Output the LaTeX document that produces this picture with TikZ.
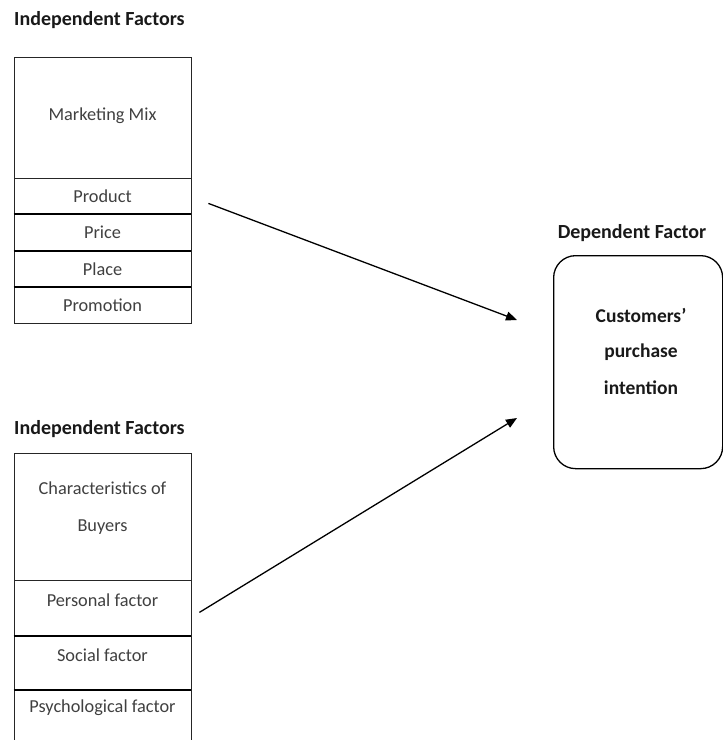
\documentclass[tikz,border=0pt]{standalone}
\usepackage{fontspec}
\setmainfont{Carlito}
\usetikzlibrary{arrows.meta}
\definecolor{txtgray}{HTML}{404040}
\tikzset{
  cell/.style={draw=black!85, line width=0.8pt, minimum width=177pt, inner sep=0pt, anchor=north},
  sep/.style={draw=black, line width=1.4pt},
  txt/.style={text=txtgray, font=\fontsize{18.3}{18.3}\selectfont, inner sep=0pt},
  deptxt/.style={text=black!90, font=\fontsize{19.5}{19.5}\selectfont\bfseries, inner sep=0pt},
  ttl/.style={text=black!90, font=\fontsize{20}{20}\selectfont\bfseries, inner sep=0pt, anchor=west},
  conn/.style={draw=black, line width=1.3pt, -{Triangle[length=11pt,width=9pt]}},
  depbox/.style={draw=black, line width=1.3pt, rounded corners=22pt, minimum width=169pt, minimum height=213pt, inner sep=0pt, anchor=north west}
}
\begin{document}
\begin{tikzpicture}[x=1pt,y=-1pt]
\useasboundingbox (0,0) rectangle (723,740);
% top group
\node[ttl] (title1) at (14,20) {Independent Factors};
\node[cell, minimum height=121pt] (mm) at (102.5,57) {};
\node[txt] (mmt) at (102.5,116) {Marketing Mix};
\node[cell, minimum height=36pt] (product) at (102.5,178) {};
\node[txt] (productt) at (102.5,196) {Product};
\node[cell, minimum height=37pt] (price) at (102.5,214) {};
\node[txt] (pricet) at (102.5,232) {Price};
\node[cell, minimum height=36pt] (place) at (102.5,251) {};
\node[txt] (placet) at (102.5,269) {Place};
\node[cell, minimum height=36pt] (promo) at (102.5,287) {};
\node[txt] (promot) at (102.5,305) {Promotion};
\draw[sep] (price.north west) -- (price.north east);
\draw[sep] (place.north west) -- (place.north east);
\draw[sep] (promo.north west) -- (promo.north east);
% bottom group
\node[ttl] (title2) at (14,429) {Independent Factors};
\node[cell, minimum height=127pt] (buyers) at (102.5,453) {};
\node[txt] (buyerst1) at (102.5,488) {Characteristics of};
\node[txt] (buyerst2) at (102.5,527) {Buyers};
\node[cell, minimum height=56pt] (personal) at (102.5,580) {};
\node[txt] (personalt) at (102.5,600) {Personal factor};
\node[cell, minimum height=54pt] (social) at (102.5,636) {};
\node[txt] (socialt) at (102.5,655) {Social factor};
\node[cell, minimum height=60pt] (psych) at (102.5,690) {};
\node[txt] (psycht) at (102.5,708) {Psychological factor};
\draw[sep] (social.north west) -- (social.north east);
\draw[sep] (psych.north west) -- (psych.north east);
% dependent
\node[ttl, anchor=center] (title3) at (632,233) {Dependent Factor};
\node[depbox] (dep) at (553,255) {};
\node[deptxt] (dept1) at (641,315) {Customers’};
\node[deptxt] (dept2) at (641,352) {purchase};
\node[deptxt] (dept3) at (641,388) {intention};
% connectors
\coordinate (s1) at ([xshift=17pt,yshift=-7pt]product.east);
\coordinate (e1) at (517,320);
\coordinate (s2) at ([xshift=8pt,yshift=-4pt]personal.east);
\coordinate (e2) at (517,418);
\draw[conn] (s1) -- (e1);
\draw[conn] (s2) -- (e2);
\end{tikzpicture}
\end{document}
